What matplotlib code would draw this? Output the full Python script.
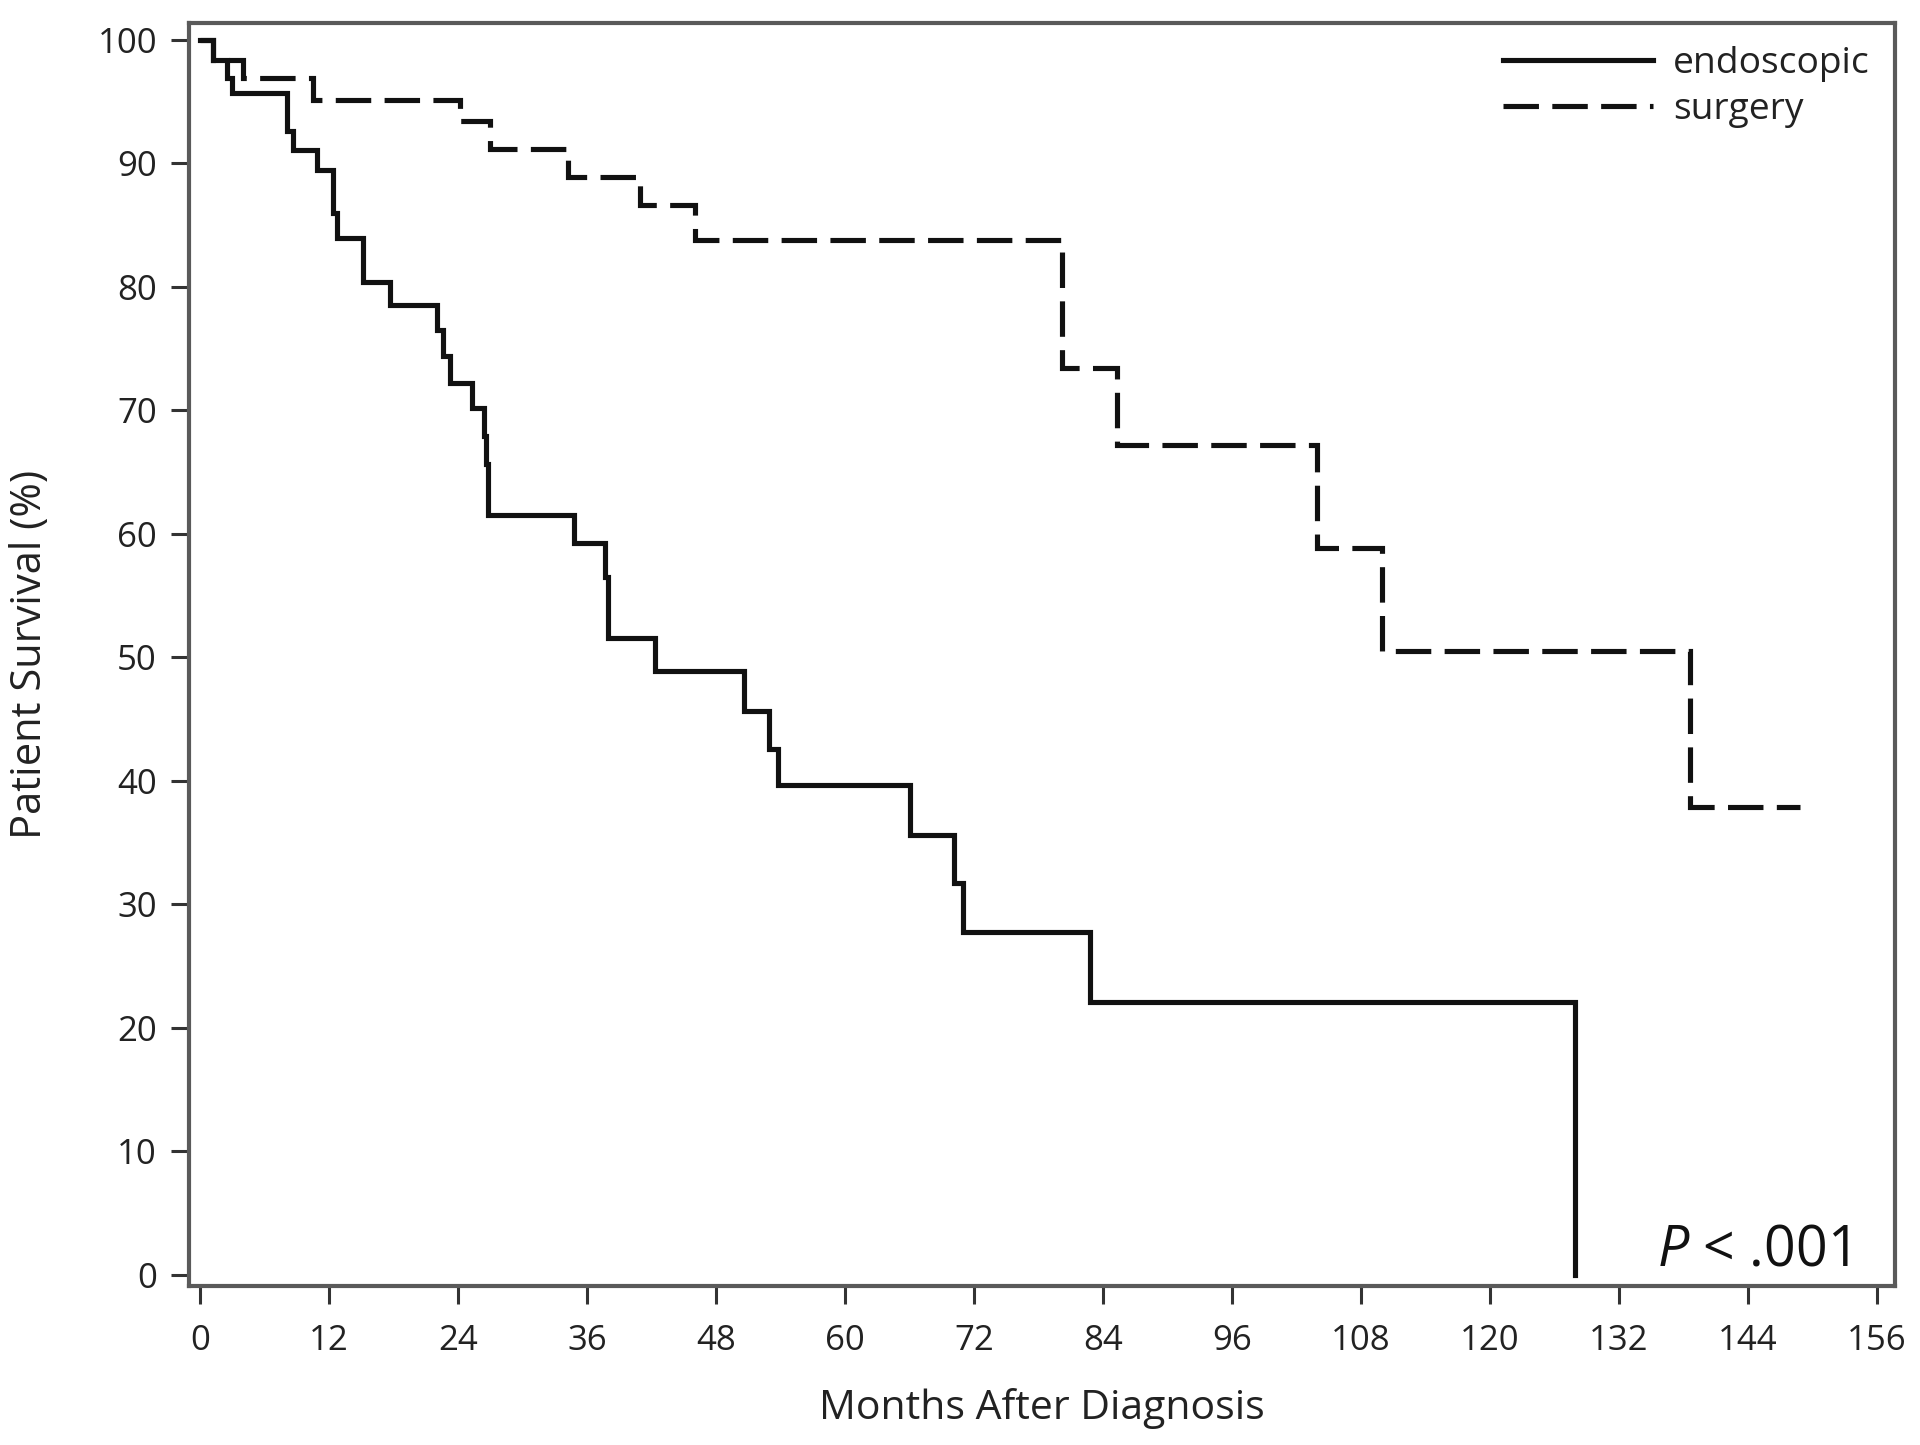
import matplotlib
matplotlib.use("Agg")
import matplotlib.pyplot as plt
from matplotlib.lines import Line2D

plt.rcParams['font.family'] = ['Open Sans', 'DejaVu Sans']
plt.rcParams['mathtext.fontset'] = 'custom'
plt.rcParams['mathtext.it'] = 'Open Sans:italic'
plt.rcParams['mathtext.rm'] = 'Open Sans'

# ---- data (months, survival %) ----
endo_months = [0, 1.2, 2.5, 3.0, 8.1, 8.65, 10.9, 12.4, 12.8, 15.2, 17.7, 22.1, 22.6,
               23.3, 25.3, 26.4, 26.6, 26.8, 34.8, 37.7, 38.0, 42.3, 50.6, 52.9, 53.8,
               66.1, 70.2, 71.0, 82.8, 127.9]
endo_surv = [100, 98.4, 96.9, 95.7, 92.6, 91.1, 89.5, 86.0, 84.0, 80.4, 78.5, 76.5, 74.4,
             72.2, 70.2, 67.9, 65.7, 61.5, 59.3, 56.5, 51.6, 48.9, 45.7, 42.6, 39.7,
             35.6, 31.7, 27.8, 22.1, 0.0]

surg_months = [0, 1.2, 4.0, 10.5, 24.2, 27.0, 34.2, 40.9, 46.1, 80.2, 85.3, 103.9,
               110.0, 138.6, 148.9]
surg_surv = [100, 98.4, 96.9, 95.1, 93.4, 91.2, 88.9, 86.6, 83.8, 73.4, 67.2, 58.9,
             50.5, 37.9, 37.9]

x_ticks = list(range(0, 157, 12))
y_ticks = list(range(0, 101, 10))
series_labels = ["endoscopic", "surgery"]
p_text = "$P$ < .001"

# ---- figure ----
fig = plt.figure(figsize=(19.2, 14.45), dpi=100)
ax = fig.add_axes([0.0984, 0.110, 0.8886, 0.8743])

lw = 3.7
line_col = '#111111'
dash = (0, (6.9, 2.6))
ax.step(endo_months, endo_surv, where='post', color=line_col, lw=lw,
        solid_joinstyle='miter')
ax.step(surg_months, surg_surv, where='post', color=line_col, lw=lw,
        linestyle=dash, dash_joinstyle='miter')

ax.set_xlim(-1.02, 157.7)
ax.set_ylim(-0.9, 101.4)
ax.set_xticks(x_ticks)
ax.set_yticks(y_ticks)

for s in ax.spines.values():
    s.set_color('#5a5a5a')
    s.set_linewidth(3)

ax.tick_params(axis='both', direction='out', length=13, width=2.2, color='#333333',
               labelsize=25, labelcolor='#222222')
ax.tick_params(axis='x', pad=14)
ax.tick_params(axis='y', pad=10)

ax.set_xlabel("Months After Diagnosis", fontsize=29.5, color='#222222')
ax.xaxis.set_label_coords(0.5, -0.097)
ax.xaxis.label.set_va('center')
ax.set_ylabel("Patient Survival (%)", fontsize=30, color='#222222')
ax.yaxis.set_label_coords(-0.0932, 0.5)
ax.yaxis.label.set_va('center')

handles = [Line2D([], [], color=line_col, lw=lw),
           Line2D([], [], color=line_col, lw=lw, linestyle=dash)]
ax.legend(handles, series_labels, loc='upper left', bbox_to_anchor=(0.770, 0.9815),
          frameon=False, fontsize=26.7, handlelength=4.05, handletextpad=0.54,
          labelspacing=0.26, borderpad=0, borderaxespad=0, labelcolor='#222222')

ax.text(0.9725, 0.0166, p_text, transform=ax.transAxes, ha='right', va='baseline',
        fontsize=40, color='#111111')

fig.savefig("out.png", dpi=100)
